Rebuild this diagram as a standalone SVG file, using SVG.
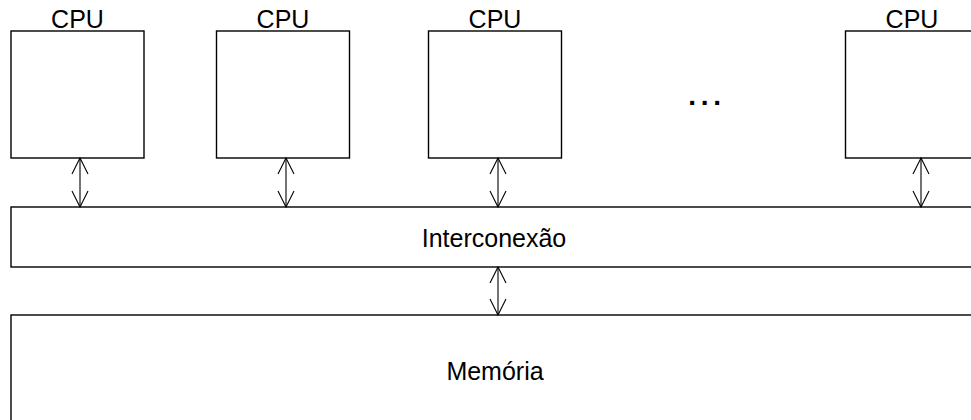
<svg xmlns="http://www.w3.org/2000/svg" width="971" height="420" viewBox="0 0 971 420">
  <style>
    .box { fill: #ffffff; stroke: #000000; stroke-width: 1.4; }
    .lbl { font-family: "Liberation Sans", Arial, sans-serif; fill: #000000; text-anchor: middle; font-size: 25px; }
    .link { stroke: #000000; stroke-width: 1.1; fill: none; marker-start: url(#ah); marker-end: url(#ah); }
  </style>
  <defs>
    <marker id="ah" markerUnits="userSpaceOnUse" viewBox="-18 -10 20 20" refX="0" refY="0" markerWidth="20" markerHeight="20" orient="auto-start-reverse">
      <path d="M-16,-8 L0,0 L-16,8" fill="none" stroke="#000000" stroke-width="1.1"/>
    </marker>
  </defs>
  <rect x="0" y="0" width="971" height="420" fill="#ffffff"/>
  <g id="cpu1">
    <rect class="box" x="11" y="31" width="133" height="127"/>
    <text class="lbl" x="77.5" y="27.5">CPU</text>
  </g>
  <g id="cpu2">
    <rect class="box" x="216.5" y="31" width="133" height="127"/>
    <text class="lbl" x="283" y="27.5">CPU</text>
  </g>
  <g id="cpu3">
    <rect class="box" x="428.5" y="31" width="133" height="127"/>
    <text class="lbl" x="495" y="27.5">CPU</text>
  </g>
  <g id="cpu4">
    <rect class="box" x="845.5" y="31" width="133" height="127"/>
    <text class="lbl" x="912" y="27.5">CPU</text>
  </g>
  <g id="dots">
    <text class="lbl" x="707" y="105" style="font-size:28px" font-weight="bold" letter-spacing="4.7">...</text>
  </g>
  <g id="interconexao">
    <rect class="box" x="11" y="207" width="975" height="60"/>
    <text class="lbl" x="494" y="246.5">Interconexão</text>
  </g>
  <g id="memoria">
    <rect class="box" x="11" y="315" width="975" height="200"/>
    <text class="lbl" x="495" y="380">Memória</text>
  </g>
  <g id="connectors">
    <line class="link" x1="80" y1="158" x2="80" y2="207"/>
    <line class="link" x1="286" y1="158" x2="286" y2="207"/>
    <line class="link" x1="498" y1="158" x2="498" y2="207"/>
    <line class="link" x1="921" y1="158" x2="921" y2="207"/>
    <line class="link" x1="498" y1="267" x2="498" y2="315"/>
  </g>
</svg>
